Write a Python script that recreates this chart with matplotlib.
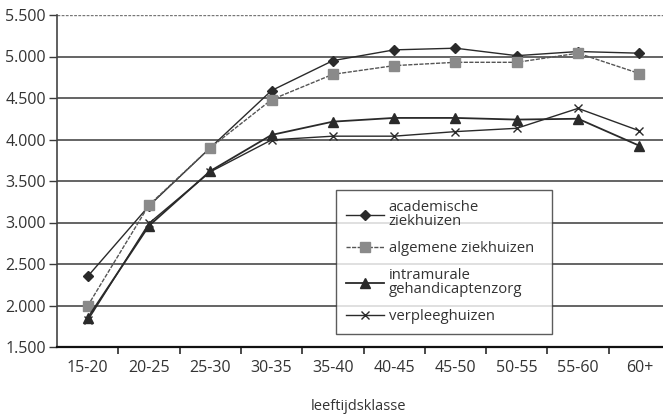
import matplotlib
matplotlib.use("Agg")
import matplotlib.pyplot as plt
import numpy as np

categories = ["15-20", "20-25", "25-30", "30-35", "35-40", "40-45",
              "45-50", "50-55", "55-60", "60+"]
academisch = [2350, 3200, 3900, 4590, 4950, 5080, 5100, 5010, 5060, 5040]
algemeen = [1995, 3210, 3900, 4480, 4785, 4890, 4930, 4930, 5040, 4795]
intramuraal = [1850, 2960, 3620, 4055, 4215, 4260, 4260, 4240, 4250, 3925]
verpleeg = [1820, 2990, 3610, 3995, 4040, 4040, 4095, 4135, 4375, 4105]
y_ticks = [1500, 2000, 2500, 3000, 3500, 4000, 4500, 5000, 5500]
y_labels = ["1.500", "2.000", "2.500", "3.000", "3.500", "4.000",
            "4.500", "5.000", "5.500"]

plt.rcParams["font.family"] = ["Open Sans", "DejaVu Sans"]

fig = plt.figure(figsize=(6.63, 4.17), dpi=100)
ax = fig.add_axes([57 / 663, 1 - 347 / 417, (670 - 57) / 663, (347 - 15) / 417])

x = np.arange(len(categories))
ink = "#2a2a2a"

ax.plot(x, academisch, color=ink, lw=1.0, marker="D", ms=5.5,
        mfc=ink, mec=ink, label="academische\nziekhuizen")
ax.plot(x, algemeen, color="#555555", lw=1.0, ls=(0, (3, 1)), marker="s", ms=7,
        mfc="#8a8a8a", mec="#8a8a8a", label="algemene ziekhuizen")
ax.plot(x, intramuraal, color=ink, lw=1.3, marker="^", ms=7.5,
        mfc=ink, mec=ink, label="intramurale\ngehandicaptenzorg")
ax.plot(x, verpleeg, color=ink, lw=1.0, marker="x", ms=6, mew=1.0,
        mec=ink, label="verpleeghuizen")

ax.set_xlim(-0.5, len(categories) - 0.5)
ax.set_ylim(1500, 5500)

# horizontal grid lines
for v in y_ticks[1:-1]:
    ax.axhline(v, color="#3a3a3a", lw=1.1, zorder=0)
ax.axhline(5500, color="#777777", lw=1.0, ls=(0, (2, 1)), zorder=0)

ax.set_yticks(y_ticks)
ax.set_yticklabels(y_labels)
ax.set_xticks(x)
ax.set_xticklabels(categories)
ax.set_xticks(np.arange(0.5, len(categories) - 0.5, 1.0), minor=True)

ax.tick_params(axis="x", which="major", length=0, pad=9, labelsize=11.5,
               labelcolor="#333333")
ax.tick_params(axis="x", which="minor", length=5, width=1.2, color=ink,
               direction="out")
ax.tick_params(axis="y", length=6, width=1.0, color="#3a3a3a", pad=2,
               labelsize=11.5, labelcolor="#333333")

for side in ["top", "right"]:
    ax.spines[side].set_visible(False)
ax.spines["left"].set_color("#444444")
ax.spines["left"].set_linewidth(1.2)
ax.spines["bottom"].set_color("#111111")
ax.spines["bottom"].set_linewidth(1.6)

leg = ax.legend(loc="lower left",
                bbox_to_anchor=((336 - 57) / 613, (347 - 334) / 332,
                                (552 - 336) / 613, (334 - 192) / 332),
                mode="expand", borderaxespad=0, frameon=True, fancybox=False,
                edgecolor="#333333", fontsize=10.7, handlelength=2.6,
                labelspacing=0.8, borderpad=0.65, handletextpad=0.3,
                labelcolor="#333333")
leg.get_frame().set_linewidth(1.0)
for t in leg.get_texts():
    t.set_linespacing(0.95)

fig.text(358 / 663, 1 - 406 / 417, "leeftijdsklasse", ha="center",
         va="center", fontsize=10.5, color="#333333")

fig.savefig("out.png", dpi=100, facecolor="white")
